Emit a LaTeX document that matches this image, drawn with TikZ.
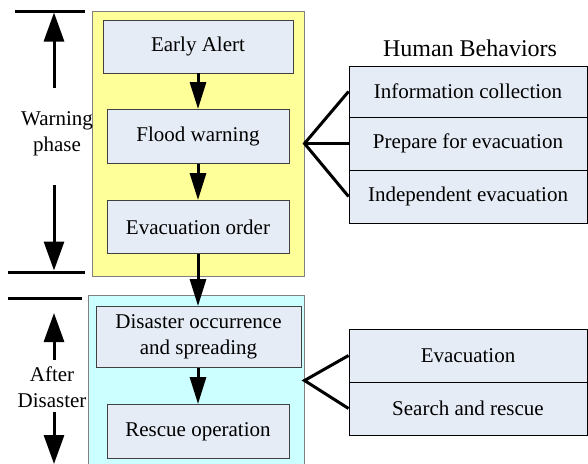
\documentclass[tikz,border=0pt]{standalone}
\usepackage{fontspec}
\setmainfont{Liberation Serif}
\usetikzlibrary{arrows.meta}
\definecolor{yellowbg}{HTML}{FFFF99}
\definecolor{cyanbg}{HTML}{CCFFFF}
\definecolor{boxfill}{HTML}{E6ECF6}
\definecolor{frameline}{HTML}{808080}
\definecolor{boxline}{HTML}{404040}
\begin{document}
\begin{tikzpicture}[x=1pt,y=-1pt,
  txt/.style={font=\fontspec{Liberation Serif}\fontsize{21}{26}\selectfont},
  phasebox/.style={draw=frameline, line width=1pt, inner sep=0pt},
  stagebox/.style={draw=boxline, fill=boxfill, line width=0.9pt, inner sep=0pt, align=center, txt},
  rowbox/.style={draw=black, fill=boxfill, line width=0.9pt, inner sep=0pt, minimum width=238pt, txt},
  flow/.style={line width=3pt, -{Triangle[width=16pt,length=27pt]}},
  phasearrow/.style={line width=3pt, -{Triangle[width=20pt,length=29pt]}},
  bar/.style={line width=3pt},
  link/.style={line width=3pt}
]
\useasboundingbox (0,0) rectangle (588,463);
\clip (0,0) rectangle (588,463);

% phase frames
\node[phasebox, fill=yellowbg, minimum width=212pt, minimum height=265pt] (warn) at (198,143.5) {};
\node[phasebox, fill=cyanbg, minimum width=216pt, minimum height=171pt] (after) at (196,380.5) {};

% stages
\node[stagebox, minimum width=190pt, minimum height=53pt] (alert) at (198,46.5) {Early Alert};
\node[stagebox, minimum width=182pt, minimum height=54pt] (flood) at (198,136.5) {Flood warning};
\node[stagebox, minimum width=182pt, minimum height=53pt] (order) at (198,227) {Evacuation order};
\node[stagebox, minimum width=205pt, minimum height=61pt] (occur) at (198.5,337) {Disaster occurrence\\and spreading};
\node[stagebox, minimum width=182pt, minimum height=54pt] (rescue) at (198,431.5) {Rescue operation};

\draw[flow] (alert) -- (flood);
\draw[flow] (flood) -- (order);
\draw[flow] (order.south) -- (order.south |- occur.north);
\draw[flow] (occur.south -| rescue.north) -- (rescue.north);

% human behaviors
\node[txt, font=\fontspec{Liberation Serif}\fontsize{24}{28}\selectfont] (hbtitle) at (470,48) {Human Behaviors};
\node[rowbox, minimum height=51pt] (info) at (468,91.5) {Information collection};
\node[rowbox, minimum height=53pt] (prep) at (468,143.5) {Prepare for evacuation};
\node[rowbox, minimum height=53pt] (indep) at (468,196.5) {Independent evacuation};
\node[rowbox, minimum height=53pt] (evac) at (468,355.5) {Evacuation};
\node[rowbox, minimum height=53pt] (search) at (468,408.5) {Search and rescue};

\draw[link] (info.west) -- (warn.east) -- (indep.west);
\draw[link] (warn.east) -- (prep.west);
\draw[link] (evac.west) -- (after.east) -- (search.west);

% phase labels and extent markers
\node[txt, align=center] (wlabel) at (57,134) {Warning\\phase};
\node[txt, align=center] (alabel) at (52,387) {After\\Disaster};

\coordinate (b1l) at (15,11);   \coordinate (b1r) at (85,11);
\coordinate (b2l) at (8,272);   \coordinate (b2r) at (85,272);
\coordinate (b3l) at (8,298);   \coordinate (b3r) at (82,298);
\draw[bar] (b1l) -- (b1r);
\draw[bar] (b2l) -- (b2r);
\draw[bar] (b3l) -- (b3r);

\coordinate (wup0) at (54,88);   \coordinate (wup1) at (54,12.5);
\coordinate (wdn0) at (54,185);  \coordinate (wdn1) at (54,270.5);
\coordinate (aup0) at (54,360);  \coordinate (aup1) at (54,313);
\coordinate (adn0) at (54,412);  \coordinate (adn1) at (54,464);
\draw[phasearrow] (wup0) -- (wup1);
\draw[phasearrow] (wdn0) -- (wdn1);
\draw[phasearrow] (aup0) -- (aup1);
\draw[phasearrow] (adn0) -- (adn1);
\end{tikzpicture}
\end{document}
